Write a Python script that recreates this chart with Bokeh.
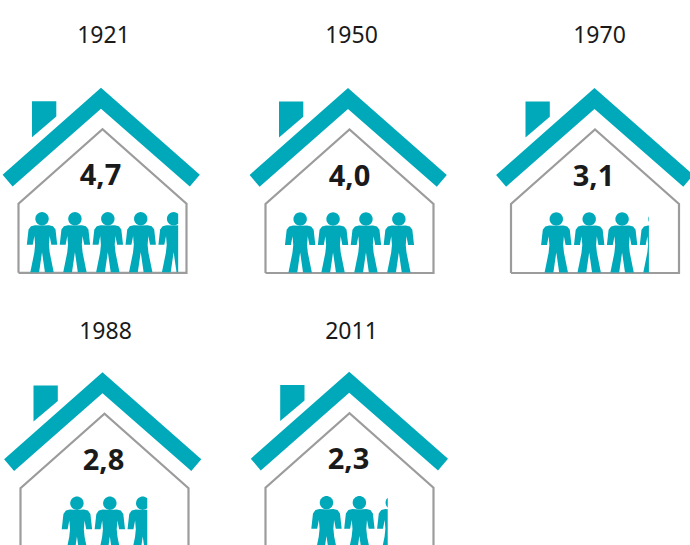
from bokeh.plotting import figure
from bokeh.embed import file_html
from bokeh.resources import INLINE
from bokeh.models import Range1d
from bokeh.core.properties import value
import math

# Data
years = ["1921", "1950", "1970", "1988", "2011"]
labels = ["4,7", "4,0", "3,1", "2,8", "2,3"]
people = [4.65, 4.0, 3.3, 2.65, 2.35]   # pictogram length

# Layout (pixel space of the 690x545 picture)
roof_apex_x = [100.5, 347.5, 594, 102, 348.7]
roof_apex_y = [87.3, 87.5, 87.5, 371.7, 371.2]
wall_cx = [102, 349, 594.5, 104, 349]
title_x = [103, 351, 599, 105, 351]
title_y = [33.5, 33.5, 33.5, 329.5, 329.5]
num_x = [100, 349, 593, 103, 348]
TEAL = "#00a9b9"
GREY = "#9c9c9c"
INK = "#1a1a1a"

p = figure(width=690, height=545, output_backend="svg", toolbar_location=None,
           x_range=Range1d(0, 690), y_range=Range1d(545, 0),
           min_border=0, outline_line_color=None, margin=(0, 0, 0, 0))
p.axis.visible = False
p.grid.visible = False
p.background_fill_color = "white"
p.border_fill_color = "white"

ROOF = [(0, 0), (98.8, 87), (88.8, 98.7), (0, 21), (-88.4, 98.7), (-98.4, 87)]
CHIMNEY = [(-69, 13.4), (-44.7, 13.4), (-44.7, 28.7), (-69, 49.4)]
WALL_W = 84
HALF = [(0, 0), (7, -0.3), (11, 0.7), (13.5, 4), (15.2, 19.3), (9.3, 19.3), (7.6, 10.5),
        (6.9, 19.3), (7.7, 27), (11.7, 46.7), (2.9, 46.7), (0, 26.7)]
PERSON = HALF + [(-x, y) for x, y in reversed(HALF[1:-1])]
HEAD = [(6.7 * math.cos(2 * math.pi * i / 36), -6.7 + 6.7 * math.sin(2 * math.pi * i / 36))
        for i in range(36)]
PW = 30.4
STEP = 32.9


def clip_right(poly, xmax):
    out = []
    for i, a in enumerate(poly):
        b = poly[(i + 1) % len(poly)]
        ain, bin_ = a[0] <= xmax, b[0] <= xmax
        if ain:
            out.append(a)
        if ain != bin_:
            t = (xmax - a[0]) / (b[0] - a[0])
            out.append((xmax, a[1] + t * (b[1] - a[1])))
    return out


def fill(poly, ox, oy, color):
    p.patch([ox + x for x, y in poly], [oy + y for x, y in poly],
            fill_color=color, line_color=None)


for i, year in enumerate(years):
    ax, ay = roof_apex_x[i], roof_apex_y[i]
    fill(ROOF, ax, ay, TEAL)
    fill(CHIMNEY, ax, ay, TEAL)
    cx = wall_cx[i]
    top, eave, floor = ay + 41.5, ay + 116, ay + 185
    p.line([cx - WALL_W, cx - WALL_W, cx, cx + WALL_W, cx + WALL_W, cx - WALL_W],
           [floor, eave, top, eave, floor, floor],
           line_color=GREY, line_width=2.2, line_join="miter")

    n = people[i]
    whole = int(n)
    frac = n - whole
    total = (whole - 1) * STEP + PW + (STEP - PW + frac * PW if frac else 0)
    left = cx - total / 2
    body_y = ay + 137.7
    for k in range(whole + (1 if frac else 0)):
        pcx = left + PW / 2 + k * STEP
        body = [(pcx + x, body_y + y) for x, y in PERSON]
        head = [(pcx + x, body_y + y) for x, y in HEAD]
        if k == whole:
            xmax = pcx - PW / 2 + frac * PW
            body = clip_right(body, xmax)
            head = clip_right(head, xmax)
        fill(body, 0, 0, TEAL)
        fill(head, 0, 0, TEAL)

    p.text([title_x[i]], [title_y[i]], text=[year], text_align="center", text_baseline="middle",
           text_font=value("Noto Sans"), text_font_size="23px", text_color=INK)
    p.text([num_x[i]], [ay + 87], text=[labels[i]], text_align="center", text_baseline="middle",
           text_font=value("Noto Sans"), text_font_style="bold", text_font_size="29px", text_color=INK)

open("out.html", "w").write(file_html(p, INLINE))
